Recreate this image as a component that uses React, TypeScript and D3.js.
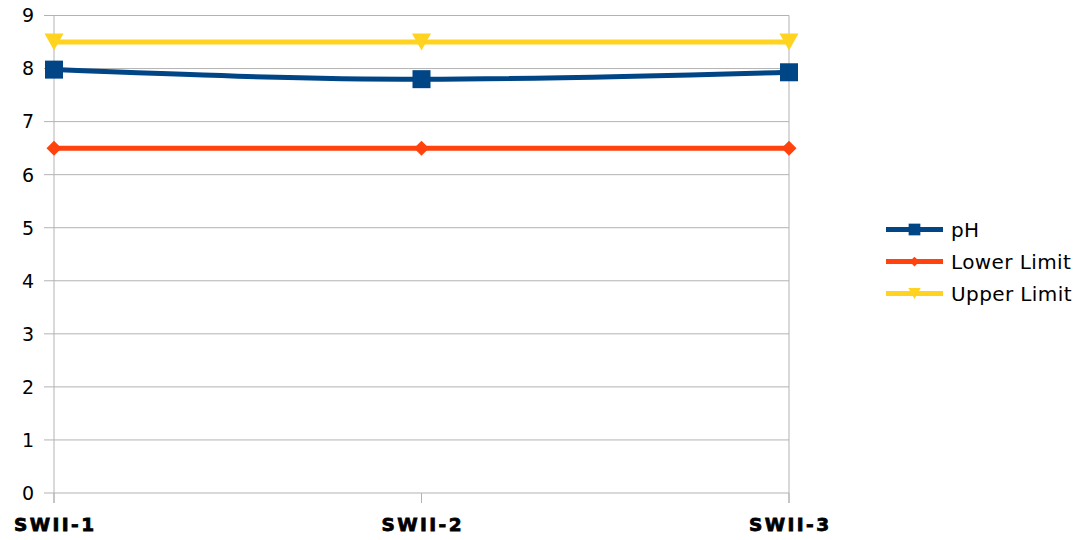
import React from "react";
import * as d3 from "d3";

const categories = ["SWII-1", "SWII-2", "SWII-3"];
const phValues = [7.98, 7.8, 7.93];
const lowerLimit = [6.5, 6.5, 6.5];
const upperLimit = [8.5, 8.5, 8.5];
const yTicks = [0, 1, 2, 3, 4, 5, 6, 7, 8, 9];

const series = [
  { name: "pH", values: phValues, color: "#004586", marker: "square" },
  { name: "Lower Limit", values: lowerLimit, color: "#ff420e", marker: "diamond" },
  { name: "Upper Limit", values: upperLimit, color: "#ffd320", marker: "triangle" },
];

const W = 1084, H = 540;
const left = 54, right = 789, top = 15.5, bottom = 493;

function Marker({ type, x, y, color, s = 1 }: any) {
  if (type === "square") {
    const h = 9 * s;
    return <rect x={x - h} y={y - h} width={2 * h} height={2 * h} fill={color} />;
  }
  if (type === "diamond") {
    const h = 7.5 * s;
    return <path d={`M${x},${y - h}L${x + h},${y}L${x},${y + h}L${x - h},${y}Z`} fill={color} />;
  }
  const w = 9.5 * s, h = 17 * s;
  return <path d={`M${x - w},${y - h / 2}L${x + w},${y - h / 2}L${x},${y + h / 2}Z`} fill={color} />;
}

export default function App() {
  const x = d3.scalePoint().domain(categories).range([left, right]);
  const y = d3.scaleLinear().domain([0, 9]).range([bottom, top]);
  const line = d3
    .line<number>()
    .x((_, i) => x(categories[i])!)
    .y((d) => y(d))
    .curve(d3.curveMonotoneX);

  const font = "DejaVu Sans, Verdana, sans-serif";
  return (
    <svg width={W} height={H} style={{ position: "absolute", left: 0, top: 0 }} fontFamily={font}>
      <rect width={W} height={H} fill="#fff" />
      {yTicks.map((t) => (
        <g key={t}>
          <line x1={left - 10} x2={right} y1={y(t)} y2={y(t)} stroke="#b3b3b3" strokeWidth={1} />
          <text x={34} y={y(t)} dy="0.36em" textAnchor="end" fontSize={19} fill="#000">
            {t}
          </text>
        </g>
      ))}
      <line x1={left} x2={left} y1={top} y2={bottom + 10} stroke="#b3b3b3" />
      <line x1={right} x2={right} y1={top} y2={bottom + 10} stroke="#b3b3b3" />
      {categories.map((c) => (
        <g key={c}>
          <line x1={x(c)} x2={x(c)} y1={bottom} y2={bottom + 10} stroke="#b3b3b3" />
          <text
            x={x(c)! + 1.2}
            y={531}
            textAnchor="middle"
            fontSize={18.5}
            fontWeight="bold"
            letterSpacing={2.4}
            fill="#000"
            stroke="#000"
            strokeWidth={0.8}
          >
            {c}
          </text>
        </g>
      ))}
      {series.map((s) => (
        <g key={s.name}>
          <path d={line(s.values)!} fill="none" stroke={s.color} strokeWidth={5} />
          {s.values.map((v, i) => (
            <Marker key={i} type={s.marker} x={x(categories[i])} y={y(v)} color={s.color} />
          ))}
        </g>
      ))}
      {series.map((s, i) => {
        const ly = 229.5 + i * 32;
        return (
          <g key={s.name}>
            <line x1={886} x2={943} y1={ly} y2={ly} stroke={s.color} strokeWidth={5} />
            <Marker type={s.marker} x={914.5} y={ly} color={s.color} s={0.65} />
            <text x={951} y={ly} dy="0.36em" fontSize={20} letterSpacing={0.4} fill="#000">
              {s.name}
            </text>
          </g>
        );
      })}
    </svg>
  );
}
